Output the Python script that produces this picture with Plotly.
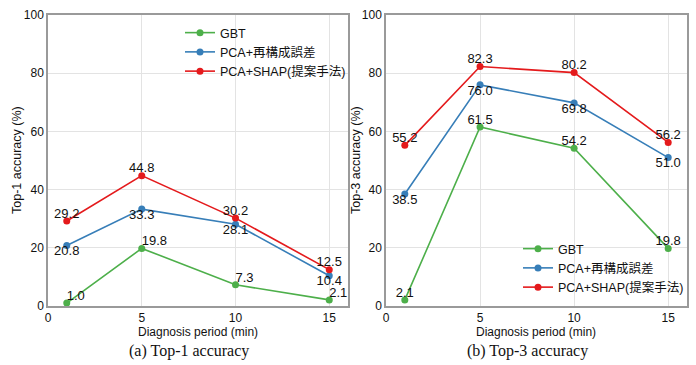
import plotly.graph_objects as go

periods = [1, 5, 10, 15]
top1_gbt = [1.0, 19.8, 7.3, 2.1]
top1_pca_rec = [20.8, 33.3, 28.1, 10.4]
top1_pca_shap = [29.2, 44.8, 30.2, 12.5]
top3_gbt = [2.1, 61.5, 54.2, 19.8]
top3_pca_rec = [38.5, 76.0, 69.8, 51.0]
top3_pca_shap = [55.2, 82.3, 80.2, 56.2]
names = ["GBT", "PCA+再構成誤差", "PCA+SHAP(提案手法)"]
colors = ["#4daf4a", "#377eb8", "#e41a1c"]
x_ticks = [0, 5, 10, 15]
y_ticks = [0, 20, 40, 60, 80, 100]

FONT = "Liberation Sans, Arial, Noto Sans CJK JP, sans-serif"
SERIF = "Liberation Serif, Times New Roman, serif"
fig = go.Figure()

def fmt(v):
    return [f"{x:.1f}" for x in v]

series_left = [(top1_gbt, "top right"), (top1_pca_rec, "bottom center"), (top1_pca_shap, "top center")]
series_right = [(top3_gbt, "top center"), (top3_pca_rec, "bottom center"), (top3_pca_shap, "top center")]

for panel, series, xa, ya, lg in [(0, series_left, "x", "y", "legend"), (1, series_right, "x2", "y2", "legend2")]:
    for i, (vals, pos) in enumerate(series):
        fig.add_trace(go.Scatter(
            x=periods, y=vals, mode="lines+markers", name=names[i],
            line=dict(color=colors[i], width=1.6), marker=dict(size=7, color=colors[i]),
            xaxis=xa, yaxis=ya, legend=lg))
    for i, (vals, pos) in enumerate(series):
        fig.add_trace(go.Scatter(
            x=periods, y=vals, mode="text", text=fmt(vals), textposition=pos,
            textfont=dict(size=13, color="#111", family=FONT), showlegend=False,
            xaxis=xa, yaxis=ya, cliponaxis=False, hoverinfo="skip"))

axis_common = dict(showline=True, mirror=True, linecolor="#9a9a9a", linewidth=1.5,
                   showgrid=True, gridcolor="#e3e3e3", zeroline=False,
                   ticks="", automargin=False,
                   tickfont=dict(size=12, color="#111", family=FONT))
ydom = [1 - 306 / 365, 1 - 15 / 365]

def ann(text, xpx, ypx, size=12, family=FONT, angle=0):
    return dict(text=text, x=xpx / 696, y=1 - ypx / 365, xref="paper", yref="paper",
                showarrow=False, textangle=angle, xanchor="center", yanchor="middle",
                font=dict(size=size, family=family, color="#111"))

fig.update_layout(
    template="none",
    width=696, height=365, margin=dict(l=0, r=0, t=0, b=0, autoexpand=False),
    plot_bgcolor="white", paper_bgcolor="white",
    font=dict(family=FONT, color="#111"),
    xaxis=dict(domain=[48 / 696, 348 / 696], range=[0, 16], tickvals=x_ticks, anchor="y", **axis_common),
    yaxis=dict(domain=ydom, range=[0, 100], tickvals=y_ticks, anchor="x", **axis_common),
    xaxis2=dict(domain=[386 / 696, 687 / 696], range=[0, 16], tickvals=x_ticks, anchor="y2", **axis_common),
    yaxis2=dict(domain=ydom, range=[0, 100], tickvals=y_ticks, anchor="x2", **axis_common),
    legend=dict(x=180 / 696, y=1 - 18 / 365, xanchor="left", yanchor="top",
                bgcolor="rgba(0,0,0,0)", font=dict(size=12.5, family=FONT), itemwidth=30,
                tracegroupgap=0),
    legend2=dict(x=518 / 696, y=1 - 234 / 365, xanchor="left", yanchor="top",
                 bgcolor="rgba(0,0,0,0)", font=dict(size=12.5, family=FONT), itemwidth=30,
                 tracegroupgap=0),
    annotations=[
        ann("Diagnosis period (min)", 198, 332),
        ann("Diagnosis period (min)", 536, 332),
        ann("Top-1 accuracy (%)", 17, 160, size=12.5, angle=-90),
        ann("Top-3 accuracy (%)", 356, 160, size=12.5, angle=-90),
        ann("(a) Top-1 accuracy", 189, 351, size=16, family=SERIF),
        ann("(b) Top-3 accuracy", 527, 351, size=16, family=SERIF),
    ],
)

fig.write_html("out.html", config={"displayModeBar": False},
               post_script="document.body.style.margin='0';document.body.style.overflow='hidden';")
